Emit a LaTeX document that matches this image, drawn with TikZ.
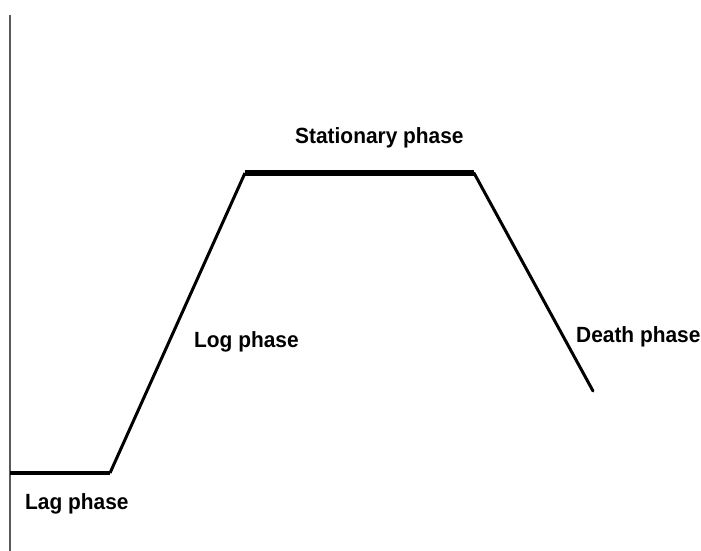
\documentclass[tikz,border=0pt]{standalone}
\usepackage{fontspec}
\setmainfont{Liberation Sans}
\usepackage{graphicx}

\tikzset{
    phaselabel/.style={anchor=base west, inner sep=0pt, font=\fontsize{22}{26}\selectfont\bfseries},
    curve/.style={color=black, line join=round},
}
\newcommand{\narrow}[1]{\scalebox{0.95}[1]{#1}}

\begin{document}
\begin{tikzpicture}[x=1pt, y=-1pt]
    % Globals
    \pgfmathsetmacro{\axisX}{10}
    \pgfmathsetmacro{\lagY}{473}
    \pgfmathsetmacro{\statY}{173}

    \useasboundingbox (0,0) rectangle (701,551);

    \coordinate (AXIS_N) at (\axisX, 15);
    \coordinate (AXIS_S) at (\axisX, 551);
    \coordinate (LAG_W) at (\axisX, \lagY);
    \coordinate (LAG_E) at (110, \lagY);
    \coordinate (STAT_W) at (245, \statY);
    \coordinate (STAT_E) at (474, \statY);
    \coordinate (DEATH_E) at (593, 391);

    \draw[color=black!65, line width=2pt] (AXIS_N) -- (AXIS_S);

    \draw[curve, line width=4.5pt] (LAG_W) -- (LAG_E);
    \draw[curve, line width=3pt] (LAG_E) -- (STAT_W);
    \draw[curve, line width=5.5pt] (STAT_W) -- (STAT_E);
    \draw[curve, line width=3pt, line cap=round] (STAT_E) -- (DEATH_E);

    \node[phaselabel] (LAG) at (25, 509) {\narrow{Lag phase}};
    \node[phaselabel] (LOG) at (194, 347) {\narrow{Log phase}};
    \node[phaselabel] (STAT) at (295, 143) {\narrow{Stationary phase}};
    \node[phaselabel] (DEATH) at (576, 342) {\narrow{Death phase}};

\end{tikzpicture}
\end{document}
